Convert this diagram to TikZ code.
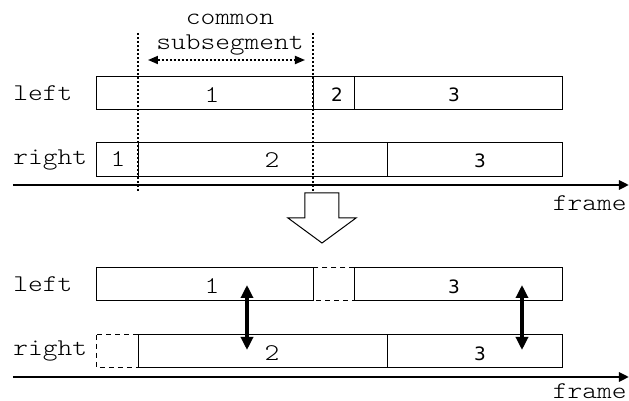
\documentclass[tikz,border=0pt]{standalone}
\usepackage{fontspec}
\usetikzlibrary{arrows.meta}
\newfontfamily\monofont{lmmonolt10-regular.otf}[FakeStretch=1.17]
\newfontfamily\digitfont{DejaVu Sans}

\tikzset{
  lbl/.style={font=\monofont\fontsize{12}{12.5}\selectfont, inner sep=0pt},
  num/.style={font=\digitfont\fontsize{9.2}{11}\selectfont, inner sep=0pt},
  seg/.style={draw, line width=0.5pt},
  gap/.style={draw, line width=0.5pt, dash pattern=on 2.5pt off 2pt},
  axis/.style={line width=1.3pt, -{Triangle[width=4.5pt,length=5pt]}},
  swap/.style={line width=1.6pt,
    {Triangle[width=6pt,length=6.5pt]}-{Triangle[width=6pt,length=6.5pt]}}
}

\begin{document}
\begin{tikzpicture}[x=0.5pt,y=-0.5pt]
   \useasboundingbox (0,0) rectangle (629,401);

   % before
   \node[lbl, anchor=west] (leftA) at (13,93.5) {left};
   \node[lbl, anchor=west] (rightA) at (13,160) {right};

   \draw[seg] (97,77) rectangle (313.5,110) rectangle (355,77) rectangle (563,110);
   \draw[seg] (97,143) rectangle (138.5,177) rectangle (388,143) rectangle (563,177);

   \node[lbl] (l1) at (212,95) {1};
   \node[num] (l2) at (337,95) {2};
   \node[num] (l3) at (454,95) {3};
   \node[lbl] (r1) at (118,159.5) {1};
   \node[lbl] (r2) at (272,160) {2};
   \node[num] (r3) at (480,160.5) {3};

   \foreach \x in {138.5,313.5}
   \draw[line width=1pt, dash pattern=on 1pt off 1pt] (\x,33) -- (\x,192);

   \node[lbl, align=center] (common) at (230,35) {common\\subsegment};
   \coordinate (cs) at (148,60);
   \coordinate (ce) at (305,60);
   \draw[line width=0.9pt, dash pattern=on 1pt off 1pt,
         {Triangle[width=4pt,length=5pt]}-{Triangle[width=4pt,length=5pt]}] (cs) -- (ce);

   \coordinate (axA) at (13,185);
   \coordinate (axB) at (629,185);
   \draw[axis] (axA) -- (axB);
   \node[lbl, anchor=east] (frameA) at (627,203) {frame};

   % step
   \draw[line width=0.5pt, fill=white] (305,193) -- (339,193) -- (339,218) -- (356,218)
        -- (322,243) -- (288,218) -- (305,218) -- cycle;

   % after
   \node[lbl, anchor=west] (leftB) at (13,284.5) {left};
   \node[lbl, anchor=west] (rightB) at (13,351.5) {right};

   \draw[gap] (313.5,268) rectangle (355,301);
   \draw[gap] (97,335) rectangle (138.5,368);
   \draw[seg] (97,268) rectangle (313.5,301) (355,268) rectangle (563,301);
   \draw[seg] (138.5,335) rectangle (388,368) rectangle (563,335);

   \node[lbl] (l1b) at (212,286.5) {1};
   \node[num] (l3b) at (454,286.5) {3};
   \node[lbl] (r2b) at (272,353.5) {2};
   \node[num] (r3b) at (480,353.5) {3};

   \coordinate (s1) at (247,285);
   \coordinate (e1) at (247,350);
   \coordinate (s3) at (522,285);
   \coordinate (e3) at (522,350);
   \draw[swap] (s1) -- (e1);
   \draw[swap] (s3) -- (e3);

   \coordinate (axC) at (13,377);
   \coordinate (axD) at (629,377);
   \draw[axis] (axC) -- (axD);
   \node[lbl, anchor=east] (frameB) at (627,391) {frame};

\end{tikzpicture}
\end{document}
